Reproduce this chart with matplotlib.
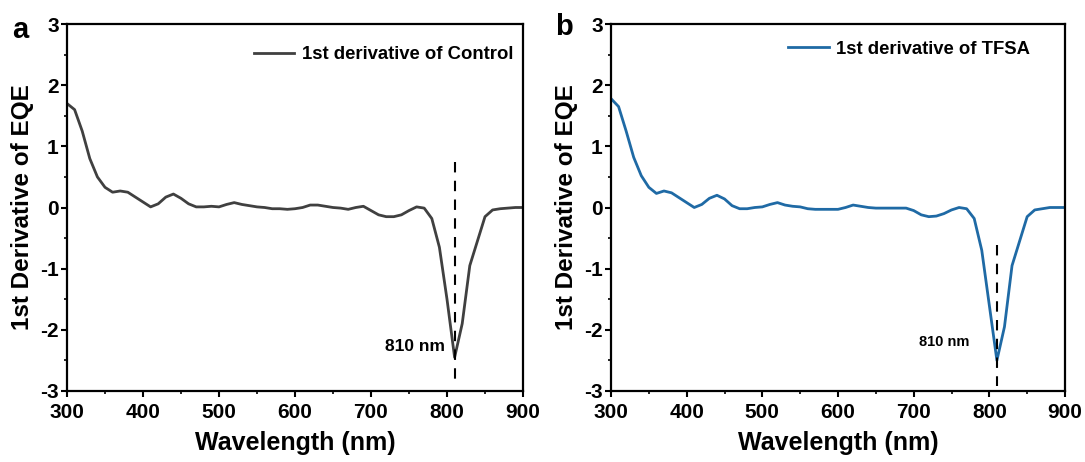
import numpy as np
import matplotlib
matplotlib.use("Agg")
import matplotlib.pyplot as plt
from matplotlib.ticker import MultipleLocator

plt.rcParams['font.family'] = ['Liberation Sans', 'DejaVu Sans']
plt.rcParams['font.weight'] = 'bold'
plt.rcParams['axes.unicode_minus'] = False

wavelength = np.arange(300, 901, 10)

control = [1.70, 1.60, 1.25, 0.80, 0.50, 0.33, 0.25, 0.27, 0.25, 0.17,
           0.09, 0.01, 0.06, 0.17, 0.22, 0.15, 0.06, 0.01, 0.01, 0.02,
           0.01, 0.05, 0.08, 0.05, 0.03, 0.01, 0.00, -0.02, -0.02, -0.03,
           -0.02, 0.00, 0.04, 0.04, 0.02, 0.00, -0.01, -0.03, 0.00, 0.02,
           -0.05, -0.12, -0.15, -0.15, -0.12, -0.05, 0.01, -0.01, -0.18, -0.65,
           -1.50, -2.45, -1.90, -0.95, -0.55, -0.15, -0.04, -0.02, -0.01, 0.00,
           0.00]

tfsa = [1.78, 1.65, 1.25, 0.82, 0.52, 0.33, 0.23, 0.27, 0.24, 0.16,
        0.08, 0.00, 0.05, 0.15, 0.20, 0.14, 0.03, -0.02, -0.02, 0.00,
        0.01, 0.05, 0.08, 0.04, 0.02, 0.01, -0.02, -0.03, -0.03, -0.03,
        -0.03, 0.00, 0.04, 0.02, 0.00, -0.01, -0.01, -0.01, -0.01, -0.01,
        -0.05, -0.12, -0.15, -0.14, -0.10, -0.04, 0.00, -0.02, -0.18, -0.70,
        -1.60, -2.50, -1.95, -0.95, -0.55, -0.15, -0.04, -0.02, 0.00, 0.00,
        0.00]

fig = plt.figure(figsize=(10.85, 4.62), dpi=100)
ax1 = fig.add_axes([67/1085, 1-391/462, 456/1085, 367/462])
ax2 = fig.add_axes([611/1085, 1-391/462, 454/1085, 367/462])


def style(ax):
    ax.set_xlim(300, 900)
    ax.set_ylim(-3, 3)
    ax.xaxis.set_major_locator(MultipleLocator(100))
    ax.xaxis.set_minor_locator(MultipleLocator(50))
    ax.yaxis.set_major_locator(MultipleLocator(1))
    ax.yaxis.set_minor_locator(MultipleLocator(0.5))
    ax.tick_params(which='major', direction='out', length=4, width=1.5,
                   labelsize=15, pad=2)
    ax.tick_params(axis='x', which='major', pad=5)
    ax.tick_params(which='minor', direction='out', length=2.5, width=1.2)
    for s in ax.spines.values():
        s.set_linewidth(1.6)
    for lbl in ax.get_xticklabels() + ax.get_yticklabels():
        lbl.set_fontweight('bold')
    ax.set_xlabel('Wavelength (nm)', fontsize=18, fontweight='bold', labelpad=6)
    ax.set_ylabel('1st Derivative of EQE', fontsize=17.5, fontweight='bold', labelpad=4)


# panel a
ax1.plot(wavelength, control, color='#404040', lw=2, label='1st derivative of Control')
ax1.plot([810, 810], [0.75, -2.8], 'k--', lw=1.5, dashes=(5, 4))
ax1.text(797, -2.28, '810 nm', fontsize=12.5, fontweight='bold', ha='right', va='center')
style(ax1)
ax1.legend(loc='upper right', frameon=False, fontsize=13.3, handlelength=2.2,
           handletextpad=0.4, borderaxespad=0.5, bbox_to_anchor=(1.015, 0.985))
fig.text(12/1085, 1-30/462, 'a', fontsize=21, fontweight='bold', va='center')

# panel b
ax2.plot(wavelength, tfsa, color='#1f6aa5', lw=2, label='1st derivative of TFSA')
ax2.plot([810, 810], [-0.62, -2.92], 'k--', lw=1.5, dashes=(5, 4))
ax2.text(740, -2.2, '810 nm', fontsize=10.5, fontweight='bold', ha='center', va='center')
style(ax2)
ax2.legend(loc='upper right', frameon=False, fontsize=13.3, handlelength=2.2,
           handletextpad=0.4, borderaxespad=0.5, bbox_to_anchor=(0.96, 1.0))
fig.text(555/1085, 1-27/462, 'b', fontsize=21, fontweight='bold', va='center')

fig.savefig('out.png', dpi=100)
